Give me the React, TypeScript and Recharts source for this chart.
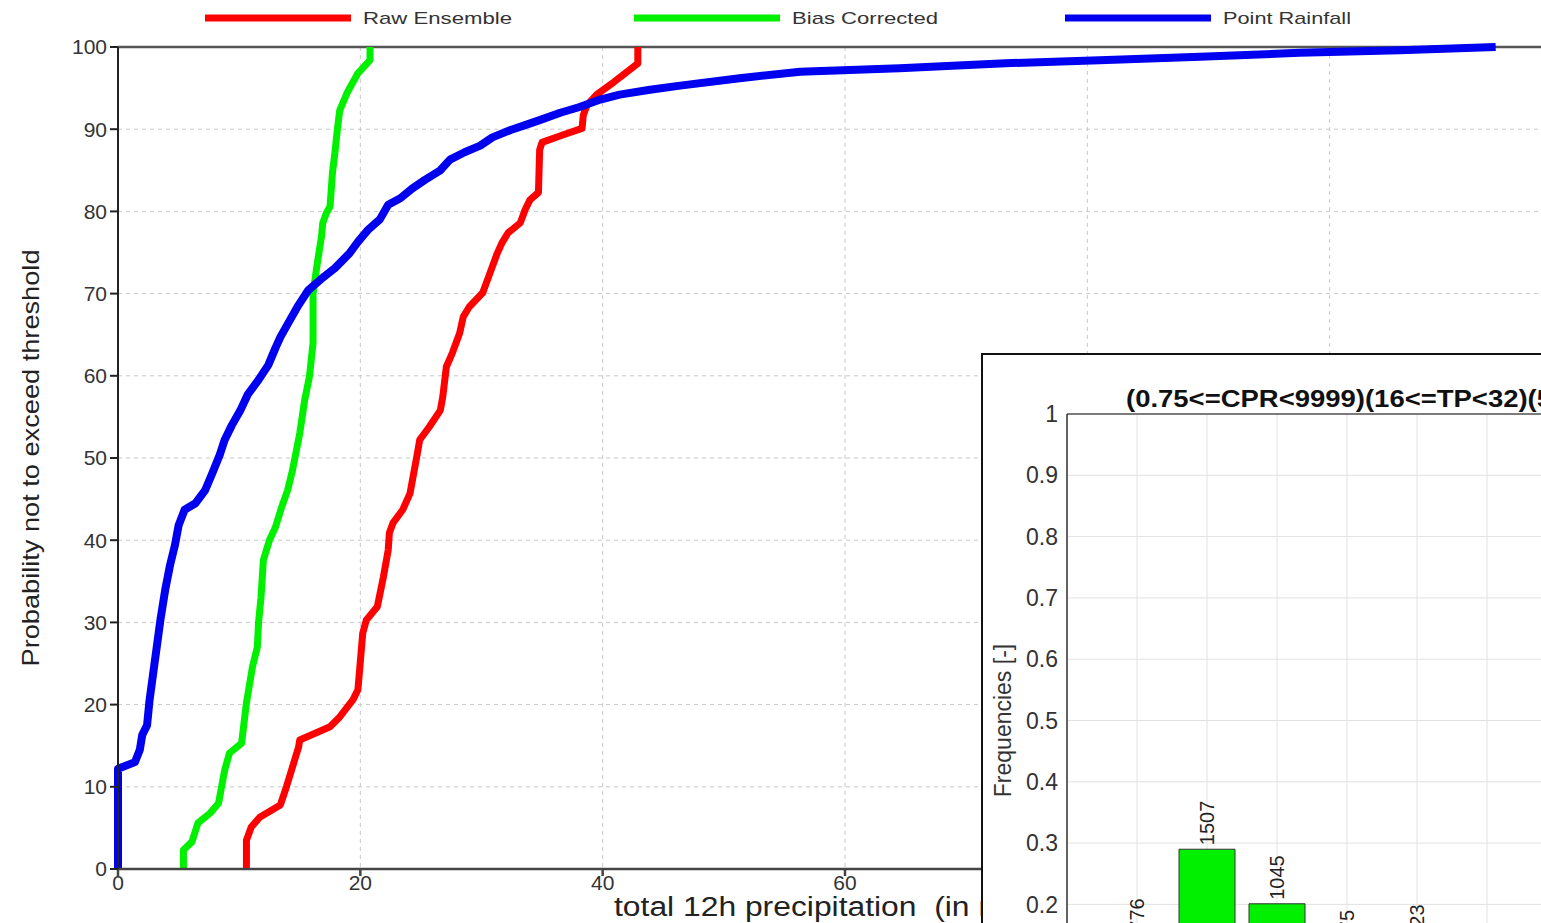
import {
  LineChart,
  Line,
  XAxis,
  YAxis,
  CartesianGrid,
  ReferenceLine,
  Label,
  BarChart,
  Bar,
  LabelList,
} from 'recharts'

const FONT = '"Liberation Sans", Arial, Helvetica, sans-serif'

// CDF curves, [precipitation, probability %]
const rawEnsemble = [
  [10.6, 0], [10.6, 3.5], [11.0, 5.1], [11.7, 6.3], [13.4, 7.8], [13.9, 10],
  [14.9, 14.8], [15.0, 15.7], [17.5, 17.3], [18.3, 18.5], [19.4, 20.6], [19.8, 21.8],
  [20.2, 28.7], [20.5, 30.3], [21.4, 31.9], [21.9, 35.5], [22.3, 38.8], [22.4, 40.9],
  [22.7, 42.1], [23.5, 43.7], [24.1, 45.7], [24.7, 50.5], [24.9, 52.2], [25.7, 53.8],
  [26.6, 55.8], [26.8, 57.4], [27.1, 61.1], [27.6, 62.8], [28.2, 65.2], [28.5, 67.2],
  [29.0, 68.4], [30.1, 70.1], [30.5, 71.7], [31.3, 74.9], [31.7, 76.2], [32.2, 77.4],
  [33.2, 78.6], [33.6, 80.2], [34.0, 81.4], [34.7, 82.3], [34.8, 87.5], [35.0, 88.4],
  [36.7, 89.3], [38.3, 90.1], [38.4, 91.7], [38.7, 92.9], [39.5, 94.2], [40.9, 95.7],
  [42.9, 98], [42.9, 100],
]

const biasCorrected = [
  [5.4, 0], [5.4, 2.3], [6.1, 3.3], [6.6, 5.6], [7.6, 6.8], [8.3, 8.0], [8.8, 12],
  [9.2, 14.1], [10.2, 15.3], [10.6, 20.2], [11.1, 24.6], [11.5, 27], [11.6, 30],
  [11.8, 33], [12.0, 37.6], [12.5, 40], [13.0, 41.6], [13.5, 44], [14.0, 46.1],
  [14.4, 48.5], [15.0, 53], [15.4, 57], [15.8, 59.9], [16.1, 64], [16.1, 70],
  [16.4, 73.2], [16.8, 77], [16.9, 78.6], [17.2, 79.8], [17.5, 80.6], [17.7, 84.7],
  [17.9, 87.1], [18.1, 89.9], [18.3, 92.3], [18.9, 94.4], [19.8, 96.8], [20.8, 98.4],
  [20.8, 100],
]

const pointRainfall = [
  [0, 0], [0, 12.2], [1.4, 13], [1.8, 14.5], [2.0, 16.3], [2.4, 17.5], [2.6, 20.5],
  [3.05, 25.4], [3.5, 30.3], [3.9, 34], [4.3, 37], [4.7, 39.4], [5.0, 41.8], [5.5, 43.7],
  [6.4, 44.5], [7.2, 46.1], [7.8, 48.2], [8.4, 50.4], [8.8, 52.2], [9.4, 54], [10.1, 55.8],
  [10.7, 57.7], [11.6, 59.5], [12.4, 61.3], [13.0, 63.4], [13.4, 64.7], [14.2, 66.8],
  [14.9, 68.6], [15.7, 70.4], [16.7, 71.7], [17.9, 73.1], [19.1, 74.9], [19.8, 76.3],
  [20.6, 77.7], [21.6, 79], [22.3, 80.8], [23.3, 81.6], [24.3, 82.8], [25.3, 83.8],
  [26.6, 85], [27.4, 86.3], [28.6, 87.2], [29.9, 88], [30.9, 89], [32.4, 89.9],
  [33.6, 90.5], [34.8, 91.1], [36.5, 92], [38.1, 92.7], [39.8, 93.6], [41.4, 94.2],
  [43.9, 94.8], [46.4, 95.3], [51.3, 96.2], [56.3, 97], [64.5, 97.4], [72.8, 98],
  [81, 98.4], [89.3, 98.8], [97.5, 99.3], [105.8, 99.6], [113.7, 100],
]

const xTicks = [0, 20, 40, 60, 80, 100, 120]
const yTicks = [0, 10, 20, 30, 40, 50, 60, 70, 80, 90, 100]

// inset histogram
const binIds = [1, 2, 3, 4, 5, 6, 7, 8]
const binFreq = [0.149, 0.29, 0.201, 0.13, 0.139, 0.06, 0.023, 0.008]
const binCount = [776, 1507, 1045, 675, 723, 312, 118, 41]
const freqTicks = [0, 0.1, 0.2, 0.3, 0.4, 0.5, 0.6, 0.7, 0.8, 0.9, 1]

const SERIES = [
  { name: 'Raw Ensemble', color: '#ff0000', width: 7, pts: rawEnsemble },
  { name: 'Bias Corrected', color: '#00f000', width: 7, pts: biasCorrected },
  { name: 'Point Rainfall', color: '#0000f0', width: 8, pts: pointRainfall },
]

const toPoints = (pts: number[][]) => pts.map(([x, y]) => ({ x, y }))
const histData = binIds.map((bin, i) => ({ bin, freq: binFreq[i], count: binCount[i] }))

// legend layout (x of each swatch, text width)
const LEGEND_X = [205, 634, 1065]
const LEGEND_TEXT_W = [149, 146, 128]

function TopLegend() {
  return (
    <svg width={1541} height={40} style={{ position: 'absolute', left: 0, top: 0 }}>
      {SERIES.map((s, i) => (
        <g key={s.name}>
          <line x1={LEGEND_X[i]} x2={LEGEND_X[i] + 146} y1={18} y2={18} stroke={s.color} strokeWidth={7} />
          <text
            x={LEGEND_X[i] + 158}
            y={24}
            fontFamily={FONT}
            fontSize={17}
            fill="#333"
            textLength={LEGEND_TEXT_W[i]}
            lengthAdjust="spacingAndGlyphs"
          >
            {s.name}
          </text>
        </g>
      ))}
    </svg>
  )
}

function BarCountLabel(props: any) {
  const { x, y, width, value } = props
  const cx = x + width / 2
  const cy = y - 4
  return (
    <text
      x={cx}
      y={cy}
      transform={`rotate(-90 ${cx} ${cy})`}
      fontFamily={FONT}
      fontSize={20}
      fill="#222"
      textAnchor="start"
      dominantBaseline="central"
    >
      {value}
    </text>
  )
}

export default function App() {
  return (
    <div
      style={{
        position: 'absolute',
        left: 0,
        top: 0,
        width: 1541,
        height: 923,
        overflow: 'hidden',
        background: '#fff',
      }}
    >
      <TopLegend />
      <div style={{ position: 'absolute', left: 0, top: 0 }}>
        <LineChart width={1600} height={923} margin={{ top: 47, right: 28, bottom: 0, left: 38 }}>
          <CartesianGrid strokeDasharray="4 4" stroke="#c8c8c8" />
          <XAxis
            type="number"
            dataKey="x"
            domain={[0, 120]}
            ticks={xTicks}
            height={54}
            tickSize={7}
            tickMargin={-1}
            stroke="#444"
            strokeWidth={2.5}
            tick={{ fontFamily: FONT, fontSize: 21, fill: '#333' }}
          >
            <Label
              content={(p: any) => {
                const vb = p.viewBox || { x: 118, y: 869 }
                return (
                  <text
                    x={vb.x + 496}
                    y={vb.y + 47}
                    fontFamily={FONT}
                    fontSize={27}
                    fill="#222"
                    textLength={428}
                    lengthAdjust="spacingAndGlyphs"
                    style={{ whiteSpace: 'pre' }}
                  >
                    {'total 12h precipitation  (in mm)'}
                  </text>
                )
              }}
            />
          </XAxis>
          <YAxis
            type="number"
            dataKey="y"
            domain={[0, 100]}
            ticks={yTicks}
            width={80}
            tickSize={8}
            tickMargin={3}
            stroke="#222"
            strokeWidth={2}
            tick={{ fontFamily: FONT, fontSize: 21, fill: '#333' }}
          >
            <Label
              content={(p: any) => {
                const vb = p.viewBox || { x: 38, y: 47, height: 822 }
                const cx = vb.x - 8
                const cy = vb.y + vb.height / 2
                return (
                  <text
                    x={cx}
                    y={cy}
                    transform={`rotate(-90 ${cx} ${cy})`}
                    fontFamily={FONT}
                    fontSize={24}
                    fill="#222"
                    textAnchor="middle"
                    dominantBaseline="central"
                    textLength={417}
                    lengthAdjust="spacingAndGlyphs"
                  >
                    Probability not to exceed threshold
                  </text>
                )
              }}
            />
          </YAxis>
          <ReferenceLine y={100} stroke="#555" strokeWidth={2.5} />
          {SERIES.map((s) => (
            <Line
              key={s.name}
              data={toPoints(s.pts)}
              dataKey="y"
              name={s.name}
              type="linear"
              stroke={s.color}
              strokeWidth={s.width}
              strokeLinejoin="round"
              dot={false}
              activeDot={false}
              isAnimationActive={false}
            />
          ))}
        </LineChart>
      </div>

      {/* inset histogram panel */}
      <div
        style={{
          position: 'absolute',
          left: 981,
          top: 353,
          width: 700,
          height: 700,
          border: '2px solid #111',
          background: '#fff',
          boxSizing: 'border-box',
        }}
      >
        <svg width={700} height={60} style={{ position: 'absolute', left: 0, top: 0 }}>
          <text
            x={143}
            y={52}
            fontFamily={FONT}
            fontSize={24}
            fontWeight="bold"
            fill="#111"
            textLength={426}
            lengthAdjust="spacingAndGlyphs"
          >
            (0.75&lt;=CPR&lt;9999)(16&lt;=TP&lt;32)(5
          </text>
        </svg>
        <BarChart
          width={734}
          height={722}
          data={histData}
          margin={{ top: 59, right: 20, bottom: 10, left: 10 }}
        >
          <CartesianGrid stroke="#e2e2e2" />
          <XAxis
            type="number"
            dataKey="bin"
            domain={[0, 9]}
            ticks={binIds}
            height={40}
            stroke="#333"
            tick={{ fontFamily: FONT, fontSize: 22, fill: '#333' }}
          />
          <YAxis
            type="number"
            domain={[0, 1]}
            ticks={freqTicks}
            width={74}
            tickLine={false}
            tickSize={6}
            tickMargin={3}
            stroke="#333"
            strokeWidth={1.5}
            tick={{ fontFamily: FONT, fontSize: 23, fill: '#333' }}
          >
            <Label
              content={(p: any) => {
                const vb = p.viewBox || { x: 10, y: 59, height: 613 }
                const cx = vb.x + 10
                const cy = vb.y + vb.height / 2
                return (
                  <text
                    x={cx}
                    y={cy}
                    transform={`rotate(-90 ${cx} ${cy})`}
                    fontFamily={FONT}
                    fontSize={23}
                    fill="#333"
                    textAnchor="middle"
                    dominantBaseline="central"
                  >
                    Frequencies [-]
                  </text>
                )
              }}
            />
          </YAxis>
          <ReferenceLine y={1} stroke="#555" strokeWidth={1.5} />
          <Bar
            dataKey="freq"
            fill="#00f000"
            stroke="#333"
            strokeWidth={1}
            barSize={56}
            isAnimationActive={false}
          >
            <LabelList dataKey="count" content={BarCountLabel} />
          </Bar>
        </BarChart>
      </div>
    </div>
  )
}
